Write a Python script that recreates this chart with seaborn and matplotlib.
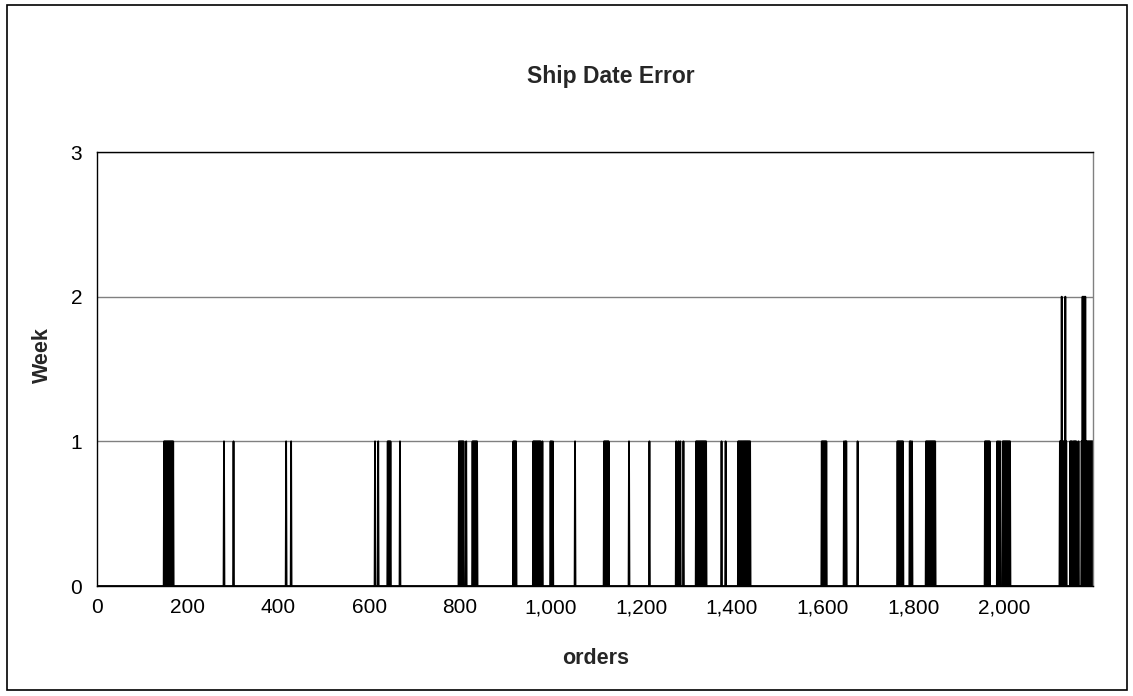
import numpy as np
import pandas as pd
import matplotlib
matplotlib.use("Agg")
import matplotlib.pyplot as plt
import seaborn as sns
from matplotlib.patches import Rectangle

# ---- data -------------------------------------------------------------
n_orders = 2196
one_week_orders = [
    148, 150, 152, 154, 156, 158, 160, 162, 164, 166, 168,
    280, 301, 417, 428,
    613, 620, 641, 643, 645, 647, 668,
    798, 800, 802, 804, 806, 808, 814,
    828, 830, 832, 834, 836, 838,
    918, 920, 922, 924,
    962, 964, 966, 968, 970, 972, 974, 976, 978, 982,
    1000, 1002, 1005, 1054,
    1118, 1120, 1122, 1124, 1126, 1128,
    1173, 1218, 1277, 1282, 1286, 1293,
    1321, 1323, 1325, 1327, 1329, 1331, 1333, 1335, 1337, 1339, 1341, 1343,
    1377, 1386,
    1414, 1416, 1418, 1420, 1422, 1424, 1426, 1428, 1430, 1432, 1434, 1436, 1438, 1440,
    1598, 1600, 1602, 1604, 1606, 1608,
    1647, 1650, 1652, 1677,
    1765, 1767, 1769, 1771, 1773, 1775, 1777,
    1792, 1794, 1797,
    1828, 1830, 1832, 1834, 1836, 1838, 1840, 1842, 1844, 1846, 1848,
    1958, 1960, 1962, 1964, 1966, 1968,
    1985, 1988, 1991,
    1997, 1999, 2001, 2003, 2005, 2007, 2009, 2011, 2013,
    2123, 2125, 2129, 2131, 2133, 2137,
    2146, 2148, 2150, 2153, 2155, 2157, 2159, 2164,
    2171, 2181, 2183, 2185, 2187, 2189, 2191, 2193, 2195, 2196,
]
two_week_orders = [2127, 2135, 2173, 2175, 2177, 2179]

x_ticks = [0, 200, 400, 600, 800, 1000, 1200, 1400, 1600, 1800, 2000]
x_tick_labels = ["0", "200", "400", "600", "800", "1,000", "1,200", "1,400",
                 "1,600", "1,800", "2,000"]
y_ticks = [0, 1, 2, 3]

title = "Ship Date Error"
x_label = "orders"
y_label = "Week"

# ---- build series -----------------------------------------------------
orders = np.arange(1, n_orders + 1)
weeks = np.zeros(n_orders)
weeks[np.array(one_week_orders) - 1] = 1
weeks[np.array(two_week_orders) - 1] = 2
df = pd.DataFrame({"order": orders, "week": weeks})

# ---- style ------------------------------------------------------------
sns.set_style("white")
plt.rcParams["font.family"] = ["Liberation Sans", "DejaVu Sans"]

W, H = 1133, 696
fig = plt.figure(figsize=(W / 100, H / 100), dpi=100)
L, R, T, B = 97, 1093, 152, 586
ax = fig.add_axes([L / W, 1 - B / H, (R - L) / W, (B - T) / H])

sns.lineplot(data=df, x="order", y="week", color="black", linewidth=1.3,
             estimator=None, ax=ax)

ax.set_xlim(0, n_orders)
ax.set_ylim(0, 3)
ax.set_xticks(x_ticks)
ax.set_xticklabels(x_tick_labels)
ax.set_yticks(y_ticks)
ax.tick_params(axis="both", labelsize=15, colors="#808080", labelcolor="black",
               length=4.3, width=1, direction="out")
ax.tick_params(axis="x", pad=4.5)
ax.tick_params(axis="y", pad=6.5)
ax.yaxis.grid(True, color="#808080", linewidth=1)
ax.xaxis.grid(False)
ax.set_axisbelow(True)

ax.spines["top"].set_visible(True)
ax.spines["top"].set_color("black")
ax.spines["top"].set_linewidth(1)
ax.spines["right"].set_visible(True)
ax.spines["right"].set_color("#808080")
ax.spines["right"].set_linewidth(1)
for side in ["left", "bottom"]:
    ax.spines[side].set_color("black")
    ax.spines[side].set_linewidth(1)

ax.set_xlabel("")
ax.set_ylabel("")
fig.text(596 / W, 1 - 659 / H, x_label, ha="center", va="center",
         fontsize=15.5, fontweight="bold")
fig.text(42 / W, 1 - 355 / H, y_label, ha="center", va="center",
         rotation=90, fontsize=15.5, fontweight="bold")
fig.text(611 / W, 1 - 76 / H, title, ha="center", va="center",
         fontsize=16.5, fontweight="bold")

# chart-area border
fig.patches.append(Rectangle((7 / W, 1 - 690 / H), (1127 - 7) / W, (690 - 5) / H,
                             transform=fig.transFigure, fill=False,
                             edgecolor="black", linewidth=1.2))

fig.savefig("out.png", dpi=100, facecolor="white")
